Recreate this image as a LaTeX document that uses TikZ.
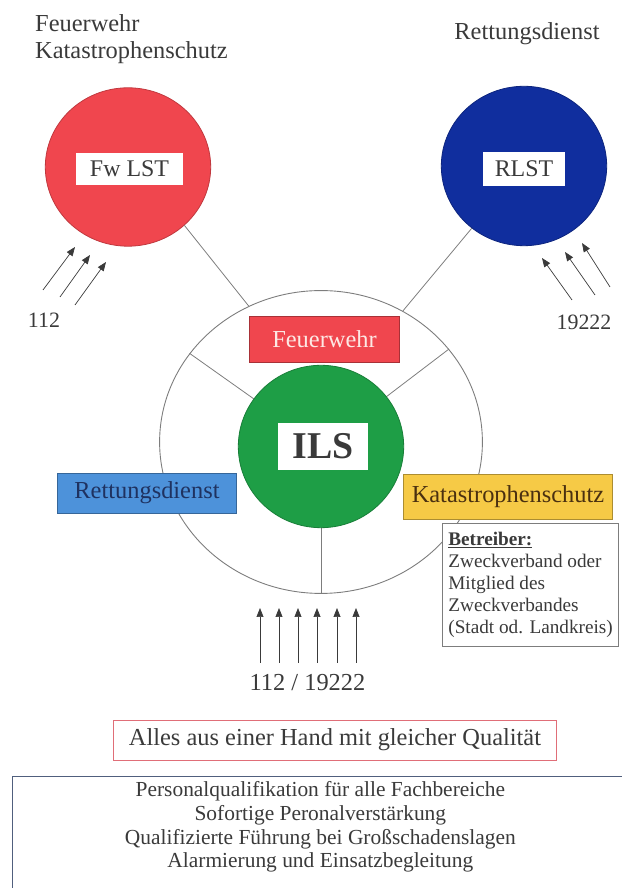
\documentclass[tikz,border=0pt]{standalone}
\usepackage{fontspec}
\setmainfont{Liberation Serif}
\usetikzlibrary{shapes.geometric,arrows.meta}

\definecolor{fwred}{RGB}{240,70,78}
\definecolor{rdblue}{RGB}{16,46,158}
\definecolor{ilsgreen}{RGB}{30,158,70}
\definecolor{tagblue}{RGB}{77,146,218}
\definecolor{tagyellow}{RGB}{246,202,70}
\definecolor{textgray}{RGB}{58,58,58}
\definecolor{linegray}{RGB}{125,125,125}
\definecolor{mottored}{RGB}{224,110,120}
\definecolor{slate}{RGB}{80,95,125}

\tikzset{
  lbl/.style={text=textgray, inner sep=0pt, font=\fontsize{24.5}{27}\selectfont},
  disc/.style={ellipse, draw=#1!80!black, fill=#1, line width=0.8, inner sep=0pt},
  whitebox/.style={rectangle, fill=white, inner sep=0pt, text=textgray, font=\fontsize{24}{26}\selectfont},
  tagbox/.style={rectangle, fill=#1, draw=#1!70!black, line width=0.8, inner sep=0pt, font=\fontsize{24.5}{27}\selectfont},
  link/.style={draw=linegray, line width=0.8},
  call/.style={draw=textgray, line width=0.7, -{Triangle[length=9,width=7]}},
}

\begin{document}
\begin{tikzpicture}[x=1bp, y=1bp]
  \useasboundingbox (0, 0) rectangle (622, 888);%
  \clip (0, 0) rectangle (622, 888);%
  % Leitstellen oben
  \node [lbl, align=left, anchor=north west] (fwtitle) at (35, 874) {Feuerwehr\\Katastrophenschutz};%
  \node [lbl] (rdtitle) at (527, 854) {Rettungsdienst};%
  \node [disc=fwred, minimum width=166, minimum height=159] (fwls) at (128, 721) {};%
  \node [whitebox, minimum width=107, minimum height=32] (fwlstag) at (129.5, 719) {Fw LST};%
  \node [disc=rdblue, minimum width=166, minimum height=160] (rls) at (524, 722) {};%
  \node [whitebox, minimum width=82, minimum height=34] (rlstag) at (524, 719) {RLST};%
  % ILS mit Ring
  \node [ellipse, draw=linegray, line width=0.9, inner sep=0pt,
         minimum width=324, minimum height=304] (ring) at (321, 446) {};%
  \draw [link] (fwls.-46) -- (ring.118);%
  \draw [link] (rls.230) -- (ring.58);%
  \foreach \a in {146, 36, 270} {%
    \draw [link] (ring.\a) -- (321, 441.5);%
  }
  \node [disc=ilsgreen, minimum width=166, minimum height=163] (ils) at (321, 441.5) {};%
  \node [whitebox, minimum width=90, minimum height=47,
         font=\bfseries\fontsize{38}{40}\selectfont] (ilstag) at (323, 441.5) {ILS};%
  \node [tagbox=fwred, text={rgb,255:red,253;green,232;blue,228},
         minimum width=151, minimum height=46] (fwtag) at (324.5, 549) {Feuerwehr};%
  \node [tagbox=tagblue, text={rgb,255:red,31;green,50;blue,96},
         minimum width=180, minimum height=40] (rdtag) at (147, 395) {Rettungsdienst};%
  \node [tagbox=tagyellow, text={rgb,255:red,74;green,48;blue,16},
         minimum width=210, minimum height=45] (kstag) at (508, 391.5) {Katastrophenschutz};%
  \node [draw=linegray, fill=white, line width=0.8, text=textgray, align=left,
         anchor=north west, inner xsep=6, inner ysep=9,
         font=\fontsize{19.3}{22}\selectfont] (owner) at (442, 365) {%
    \underline{\textbf{Betreiber:}}\\Zweckverband oder\\Mitglied des\\%
    Zweckverbandes\\(Stadt od. Landkreis)};%
  % Notrufe
  \node [lbl, font=\fontsize{22}{24}\selectfont] (fwnum) at (44, 568) {112};%
  \node [lbl, font=\fontsize{22}{24}\selectfont] (rdnum) at (584, 566) {19222};%
  \node [lbl] (ilsnum) at (307.5, 205) {112 / 19222};%
  \foreach \tx/\ty/\hx/\hy [count=\i] in {43/598/75/641, 60/591/90/633, 75/583/106/626} {%
    \coordinate (fwin\i) at (\tx, \ty);%
    \coordinate (fwto\i) at (\hx, \hy);%
    \draw [call] (fwin\i) -- (fwto\i);%
  }
  \foreach \tx/\ty/\hx/\hy [count=\i] in {572/588/542/630, 595/593/565/636, 610/601/582/645} {%
    \coordinate (rdin\i) at (\tx, \ty);%
    \coordinate (rdto\i) at (\hx, \hy);%
    \draw [call] (rdin\i) -- (rdto\i);%
  }
  \foreach \x [count=\i] in {260, 279, 298, 317, 337, 356} {%
    \coordinate (ilsin\i) at (\x, 225);%
    \coordinate (ilsto\i) at (\x, 280);%
    \draw [call] (ilsin\i) -- (ilsto\i);%
  }
  % Qualitaet
  \node [lbl, draw=mottored, line width=0.8, minimum width=444, minimum height=40] (motto) at (335, 148)
    {Alles aus einer Hand mit gleicher Qualität};%
  \node [draw=slate, line width=1, anchor=north west, minimum width=618, minimum height=140] (tasks) at (12, 112) {};%
  \node [lbl, align=center, anchor=north, font=\fontsize{21.5}{24}\selectfont] (tasklist) at ([yshift=-5]tasks.north) {%
    Personalqualifikation für alle Fachbereiche\\Sofortige Peronalverstärkung\\%
    Qualifizierte Führung bei Großschadenslagen\\Alarmierung und Einsatzbegleitung};%
\end{tikzpicture}
\end{document}
